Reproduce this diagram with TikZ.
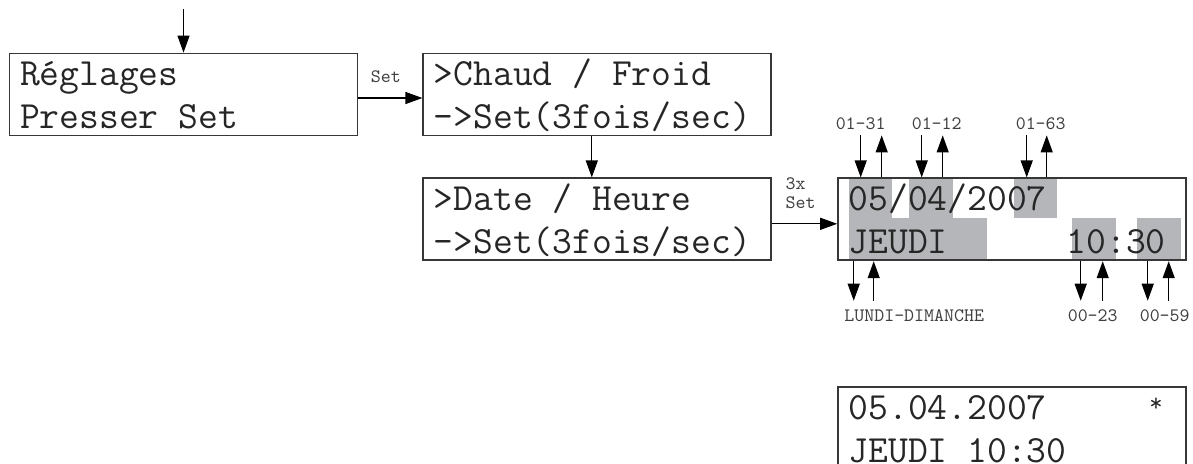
\documentclass[tikz,border=0pt]{standalone}
\usepackage{fontspec}
\newcommand\lcdbig{\ttfamily\fontsize{19.24pt}{21.5pt}\selectfont}
\newcommand\lcdsmall{\ttfamily\fontsize{9.5pt}{9.5pt}\selectfont}
% one empty character cell of the display
\newcommand\cell{\phantom{0}}
% small raised star in one cell
\newcommand\etoile{\makebox[0.525em]{\raisebox{4pt}{\fontsize{13pt}{13pt}\selectfont *}}}
\usetikzlibrary{positioning}
\usetikzlibrary{arrows.meta}
\usetikzlibrary{backgrounds}
\definecolor{lcdgray}{RGB}{181,182,186}
\definecolor{lcdline}{RGB}{55,55,55}
\tikzset{
  lcd/.style={draw=lcdline, line width=0.9pt, rectangle,
    minimum width=174pt, minimum height=41pt,
    inner xsep=5.25pt, inner ysep=0pt, text width=163.5pt, align=flush left,
    text height=12pt, text depth=21pt, text=black!85, font=\lcdbig},
  hint/.style={inner sep=0pt, text=black!75, font=\lcdsmall},
  hilite/.style={fill=lcdgray}
}

\begin{document}
\begin{tikzpicture}[>={Triangle[length=8.5pt,width=6pt]}, line width=0.6pt]
  \useasboundingbox (0,0) rectangle (596.5pt,-231.5pt);
  % menu boxes
  \node[lcd] (regl) at (91.75pt,-47.25pt) {Réglages\\Presser\cell Set};
  \node[lcd, right=32pt of regl] (chaud) {>Chaud\cell/\cell Froid\\->Set(3fois/sec)};
  \node[lcd, below=20.5pt of chaud] (date) {>Date\cell/\cell Heure\\->Set(3fois/sec)};
  \node[lcd, right=32.5pt of date] (edit) {05/04/2007\\JEUDI\phantom{000000}10:30};
  \node[lcd, below=62.5pt of edit] (aff) {05.04.2007\phantom{00000}\etoile\\JEUDI\cell 10:30};
  \coordinate (entree) at ([yshift=21.75pt]regl.north);
  \draw[->] (entree) -- (regl);
  \draw[->] ([yshift=-1.75pt]regl.east) -- node[above=7.5pt, hint, xshift=-2.25pt] {Set} ([yshift=-1.75pt]chaud.west);
  \draw[->] ([xshift=-2.75pt]chaud.south) -- ([xshift=-2.75pt]chaud.south |- date.north);
  \draw[->] ([yshift=-2.25pt]date.east) -- node[above=7.5pt, hint, align=left, xshift=-2pt] {3x\\Set} ([yshift=-2.25pt]edit.west);
  % highlighted fields
  \begin{scope}[on background layer, shift={(edit.north west)}]
    \fill[hilite] (5.75pt,0) rectangle (27.25pt,-20.5pt);
    \fill[hilite] (35.75pt,0) rectangle (57.75pt,-20.5pt);
    \fill[hilite] (88.25pt,0) rectangle (109.75pt,-20.5pt);
    \fill[hilite] (5.75pt,-20.5pt) rectangle (74.75pt,-41pt);
    \fill[hilite] (117.25pt,-20.5pt) rectangle (139.25pt,-41pt);
    \fill[hilite] (149.75pt,-20.5pt) rectangle (171.75pt,-41pt);
  \end{scope}
  % ranges above
  \begin{scope}[shift={(edit.north west)}]
    \node[hint] (jour) at (11.75pt,26.75pt) {01-31};
    \node[hint] (mois) at (49.75pt,26.75pt) {01-12};
    \node[hint] (annee) at (101.75pt,26.75pt) {01-63};
    \foreach \x in {11.75,42.25,94.75}
      \draw[->] (\x pt,21pt) -- (\x pt,0);
    \foreach \x in {22.25,52.75,104.75}
      \draw[->] (\x pt,0) -- (\x pt,21pt);
  \end{scope}
  % ranges below
  \begin{scope}[shift={(edit.south west)}]
    \node[hint] (jsem) at (38.5pt,-27.25pt) {LUNDI-DIMANCHE};
    \node[hint] (heure) at (127.75pt,-27.25pt) {00-23};
    \node[hint] (minute) at (163.75pt,-27.25pt) {00-59};
    \foreach \x in {8.25,121.75,155.25}
      \draw[->] (\x pt,0) -- (\x pt,-19.75pt);
    \foreach \x in {18.25,132.75,165.75}
      \draw[->] (\x pt,-19.75pt) -- (\x pt,0);
  \end{scope}
\end{tikzpicture}
\end{document}
